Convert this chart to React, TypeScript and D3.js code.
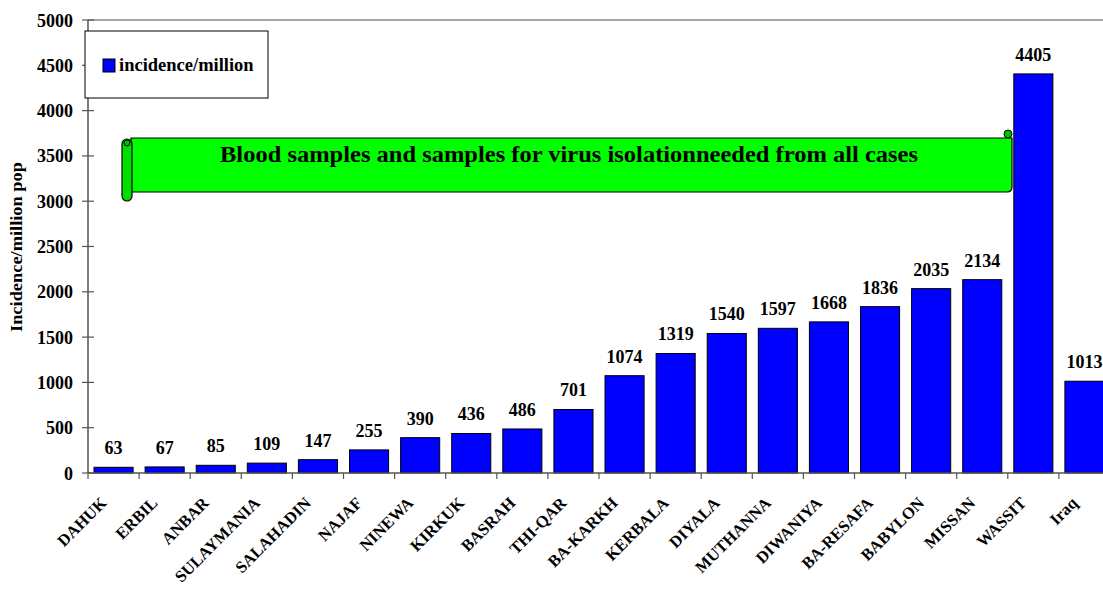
import React from "react";
import * as d3 from "d3";

const categories = ["DAHUK","ERBIL","ANBAR","SULAYMANIA","SALAHADIN","NAJAF","NINEWA","KIRKUK","BASRAH","THI-QAR","BA-KARKH","KERBALA","DIYALA","MUTHANNA","DIWANIYA","BA-RESAFA","BABYLON","MISSAN","WASSIT","Iraq"];
const values = [63,67,85,109,147,255,390,436,486,701,1074,1319,1540,1597,1668,1836,2035,2134,4405,1013];
const yTicks = [0,500,1000,1500,2000,2500,3000,3500,4000,4500,5000];
const seriesName = "incidence/million";
const yTitle = "Incidence/million pop";
const bannerText = "Blood samples and samples for virus isolationneeded from all cases";

const W = 1103, H = 589;
const left = 88, right = 1110, top = 20, bottom = 473;
const font = "'Liberation Serif', 'Times New Roman', serif";

export default function App() {
  const x = d3.scaleBand<string>().domain(categories).range([left, right]).paddingInner(0.235).paddingOuter(0.1175);
  const y = d3.scaleLinear().domain([0, 5000]).range([bottom, top]);
  const axisColor = "#555";
  return (
    <svg width={W} height={H} style={{ position: "absolute", left: 0, top: 0, background: "#fff" }} fontFamily={font}>
      {/* top border line */}
      <line x1={left} x2={W} y1={y(5000)} y2={y(5000)} stroke="#888" strokeWidth={1.5} />
      {/* bars */}
      {categories.map((c, i) => (
        <rect key={c} x={x(c)} y={y(values[i])} width={x.bandwidth()} height={bottom - y(values[i])} fill="#0000ff" stroke="#000" strokeWidth={1} />
      ))}
      {/* value labels */}
      {categories.map((c, i) => (
        <text key={c + "v"} x={(x(c) as number) + x.bandwidth() / 2} y={y(values[i]) - 13} textAnchor="middle" fontSize={18} fontWeight="bold">{values[i]}</text>
      ))}
      {/* y axis */}
      <line x1={left} x2={left} y1={top} y2={bottom} stroke={axisColor} strokeWidth={1.5} />
      {yTicks.map(t => (
        <g key={t}>
          <line x1={left - 6} x2={left + 6} y1={y(t)} y2={y(t)} stroke={axisColor} strokeWidth={1.2} />
          <text x={73} y={y(t) + 6.5} textAnchor="end" fontSize={18} fontWeight="bold">{t}</text>
        </g>
      ))}
      {/* x axis */}
      <line x1={left} x2={W} y1={bottom} y2={bottom} stroke={axisColor} strokeWidth={1.5} />
      {d3.range(categories.length + 1).map(i => {
        const xx = left + i * x.step();
        return <line key={i} x1={xx} x2={xx} y1={bottom} y2={bottom + 6} stroke={axisColor} strokeWidth={1.2} />;
      })}
      {categories.map(c => {
        const cx = (x(c) as number) + x.bandwidth() / 2;
        return (
          <text key={c + "l"} transform={`translate(${cx - 6},${bottom + 31}) rotate(-45)`} textAnchor="end" fontSize={16.5} fontWeight="bold">{c}</text>
        );
      })}
      {/* y title */}
      <text transform={`translate(22,247) rotate(-90)`} textAnchor="middle" fontSize={16} fontWeight="bold" textLength={170} lengthAdjust="spacingAndGlyphs">{yTitle}</text>
      {/* legend */}
      <rect x={85} y={31} width={183} height={67} fill="#fff" stroke="#000" strokeWidth={1} />
      <rect x={103} y={59} width={12} height={13} fill="#0000ff" stroke="#000" strokeWidth={1} />
      <text x={119} y={71} fontSize={18.5} fontWeight="bold">{seriesName}</text>
      {/* banner */}
      <path d="M131,138 L1012,138 L1012,187 Q1012,192 1007,192 L131,192 Z" fill="#00ff00" stroke="#000" strokeWidth={1.2} />
      <rect x={122} y={139} width={10} height={62} rx={5} fill="#00e000" stroke="#000" strokeWidth={1.2} />
      <circle cx={127} cy={143} r={3} fill="#00c000" stroke="#000" strokeWidth={1} />
      <circle cx={1008} cy={134} r={4} fill="#00c000" stroke="#000" strokeWidth={1} />
      <text x={569} y={162} textAnchor="middle" fontSize={24} fontWeight="bold" textLength={698} lengthAdjust="spacingAndGlyphs">{bannerText}</text>
    </svg>
  );
}
